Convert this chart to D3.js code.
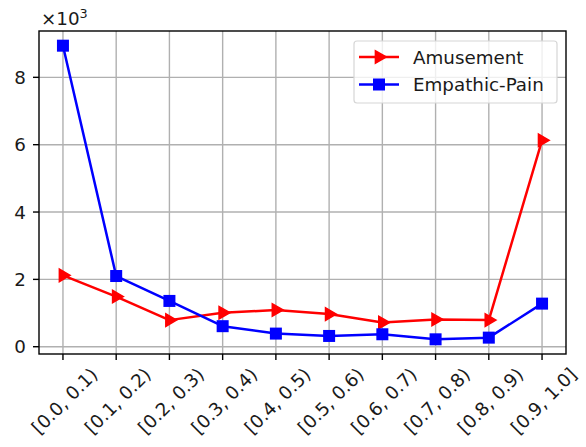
<!DOCTYPE html>
<html>
<head>
<meta charset="utf-8">
<script src="https://cdn.jsdelivr.net/npm/d3@7"></script>
<style>
  html, body { margin: 0; padding: 0; background: #fff; }
  svg { display: block; }
  text { font-family: "DejaVu Sans", sans-serif; fill: #1a1a1a; }
</style>
</head>
<body>
<svg id="chart" width="586" height="447"></svg>
<script>
// Bins of the score range
const categories = ["[0.0, 0.1)", "[0.1, 0.2)", "[0.2, 0.3)", "[0.3, 0.4)", "[0.4, 0.5)",
                    "[0.5, 0.6)", "[0.6, 0.7)", "[0.7, 0.8)", "[0.8, 0.9)", "[0.9, 1.0]"];
// Counts per bin
const amusement    = [2120, 1490, 790, 1010, 1090, 970, 720, 810, 790, 6130];
const empathicPain = [8940, 2100, 1360, 610, 390, 320, 370, 220, 270, 1280];
const yTicks = [0, 2000, 4000, 6000, 8000];
const seriesNames = ["Amusement", "Empathic-Pain"];

const FONT = 18.3;
const svg = d3.select("#chart");
const plot = { left: 39, right: 566, top: 31, bottom: 354 };

// 5% margins on both axes
const n = categories.length;
const x = d3.scaleLinear()
  .domain([-0.45, n - 1 + 0.45])
  .range([plot.left, plot.right]);

const all = amusement.concat(empathicPain);
const lo = d3.min(all), hi = d3.max(all), pad = (hi - lo) * 0.05;
const y = d3.scaleLinear()
  .domain([lo - pad, hi + pad])
  .range([plot.bottom, plot.top]);

// Grid lines
const grid = svg.append("g").attr("stroke", "#b0b0b0").attr("stroke-width", 1.4);
grid.selectAll("line.v").data(d3.range(n)).join("line")
  .attr("x1", i => x(i)).attr("x2", i => x(i))
  .attr("y1", plot.top).attr("y2", plot.bottom);
grid.selectAll("line.h").data(yTicks).join("line")
  .attr("x1", plot.left).attr("x2", plot.right)
  .attr("y1", d => y(d)).attr("y2", d => y(d));

// Series lines and markers
const line = d3.line().x((d, i) => x(i)).y(d => y(d));
const series = [
  { name: seriesNames[0], values: amusement, color: "#ff0000", marker: "tri" },
  { name: seriesNames[1], values: empathicPain, color: "#0000ff", marker: "sq" }
];

function drawMarker(g, type, cx, cy, color) {
  if (type === "sq") {
    const s = 12;
    g.append("rect").attr("x", cx - s / 2).attr("y", cy - s / 2)
      .attr("width", s).attr("height", s).attr("fill", color);
  } else {
    const r = 7.2;
    g.append("path")
      .attr("d", `M${cx + r},${cy} L${cx - r * 0.5},${cy - r * 0.87} L${cx - r * 0.5},${cy + r * 0.87} Z`)
      .attr("fill", color).attr("stroke", color).attr("stroke-width", 1.5)
      .attr("stroke-linejoin", "miter");
  }
}

series.forEach(s => {
  const g = svg.append("g");
  g.append("path").datum(s.values)
    .attr("d", line).attr("fill", "none")
    .attr("stroke", s.color).attr("stroke-width", 2.5)
    .attr("stroke-linejoin", "round");
  s.values.forEach((v, i) => drawMarker(g, s.marker, x(i), y(v), s.color));
});

// Axes frame
svg.append("rect")
  .attr("x", plot.left).attr("y", plot.top)
  .attr("width", plot.right - plot.left).attr("height", plot.bottom - plot.top)
  .attr("fill", "none").attr("stroke", "#000").attr("stroke-width", 1.4);

// Y axis ticks and labels (in thousands)
const yAxis = svg.append("g");
yTicks.forEach(t => {
  yAxis.append("line").attr("x1", plot.left - 6).attr("x2", plot.left)
    .attr("y1", y(t)).attr("y2", y(t)).attr("stroke", "#000").attr("stroke-width", 1.4);
  yAxis.append("text").attr("x", plot.left - 13).attr("y", y(t))
    .attr("text-anchor", "end").attr("dominant-baseline", "central")
    .attr("font-size", FONT).text(d3.format("d")(t / 1000));
});
const off = svg.append("text").attr("x", 41).attr("y", 25).attr("font-size", FONT);
off.append("tspan").text("\u00d710");
off.append("tspan").attr("font-size", FONT * 0.7).attr("dy", -7).text("3");

// X axis ticks and rotated labels
const xAxis = svg.append("g");
categories.forEach((c, i) => {
  const tx = x(i);
  xAxis.append("line").attr("x1", tx).attr("x2", tx)
    .attr("y1", plot.bottom).attr("y2", plot.bottom + 6)
    .attr("stroke", "#000").attr("stroke-width", 1.4);
  const t = xAxis.append("text").attr("font-size", FONT)
    .attr("text-anchor", "middle").attr("dominant-baseline", "central").text(c);
  const w = t.node().getComputedTextLength();
  const h = FONT * 1.1;
  const bb = (w + h) / Math.SQRT2;
  const cy = plot.bottom + 10 + bb / 2;
  t.attr("transform", `translate(${tx + 1.5},${cy}) rotate(-45)`);
});

// Legend
const lg = svg.append("g");
lg.append("rect").attr("x", 354).attr("y", 41).attr("width", 203).attr("height", 62)
  .attr("rx", 3).attr("fill", "#fff").attr("fill-opacity", 0.8)
  .attr("stroke", "#d6d6d6").attr("stroke-width", 1.2);
series.forEach((s, i) => {
  const cy = 57 + i * 27.5;
  lg.append("line").attr("x1", 359).attr("x2", 399).attr("y1", cy).attr("y2", cy)
    .attr("stroke", s.color).attr("stroke-width", 2.5);
  drawMarker(lg, s.marker, 379, cy, s.color);
  lg.append("text").attr("x", 413).attr("y", cy).attr("dominant-baseline", "central")
    .attr("font-size", FONT).text(s.name);
});
</script>
</body>
</html>
